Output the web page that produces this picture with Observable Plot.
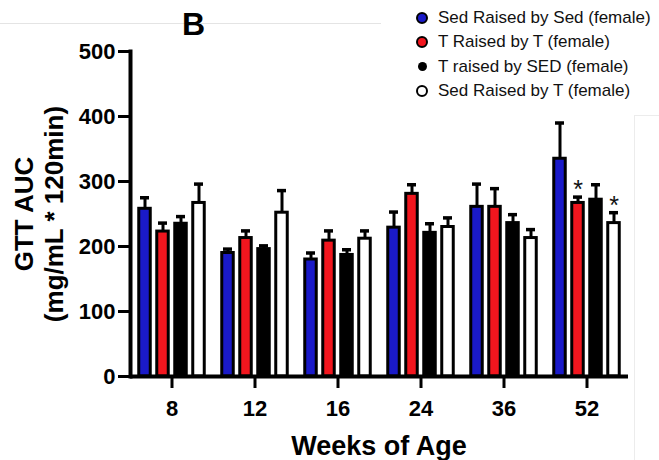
<!DOCTYPE html>
<html>
<head>
<meta charset="utf-8">
<script src="https://cdn.jsdelivr.net/npm/d3@7"></script>
<script src="https://cdn.jsdelivr.net/npm/@observablehq/plot@0.6"></script>
<style>
  html, body { margin: 0; padding: 0; background: #fff; }
  #wrap { position: relative; width: 659px; height: 460px; overflow: hidden; font-family: "Liberation Sans", Arial, sans-serif; color: #000; }
  #chart { position: absolute; left: 0; top: 0; }
  #chart g[aria-label$="tick label"], #chart g[aria-label$="tick label"] text { font-size: 22px; font-weight: bold; }
  .abs { position: absolute; white-space: nowrap; }
  #gline { position: absolute; left: 0; top: 23px; width: 381px; height: 0; border-top: 1px solid #e4e4e4; }
  #rbox { position: absolute; left: 634px; top: 115px; width: 40px; height: 400px; border-left: 1px solid #ececec; border-top: 1px solid #ececec; }
  #title { left: 182px; top: 8px; font-size: 32px; line-height: 32px; font-weight: bold; }
  #xlab { left: 179px; width: 400px; text-align: center; top: 433px; font-size: 27px; line-height: 27px; font-weight: bold; }
  #ylab { left: -111px; top: 184px; width: 300px; height: 60px; transform: rotate(-90deg); text-align: center; font-size: 26px; line-height: 30px; font-weight: bold; }
  #legend { left: 406px; top: 6px; }
  .lrow { display: flex; align-items: center; height: 24.3px; font-size: 17px; color: #111; }
  .lmark { width: 32px; display: flex; justify-content: center; margin-right: 0px; }
  .dot { border-radius: 50%; box-sizing: border-box; }
</style>
</head>
<body>
<div id="wrap">
  <div id="gline"></div>
  <div id="rbox"></div>
  <div id="chart"></div>
  <div id="title" class="abs">B</div>
  <div id="legend" class="abs"></div>
  <div id="ylab" class="abs">GTT AUC<br>(mg/mL * 120min)</div>
  <div id="xlab" class="abs">Weeks of Age</div>
</div>
<script>
const weeks = ["8", "12", "16", "24", "36", "52"];
const seriesNames = ["Sed Raised by Sed (female)", "T Raised by T (female)", "T raised by SED (female)", "Sed Raised by T (female)"];
const seriesColors = ["#1a1ac8", "#f2161e", "#000000", "#ffffff"];
const yTicks = [0, 100, 200, 300, 400, 500];

// GTT AUC means and SEM per week
const sedBySedMean = [258, 190, 180, 229, 261, 335];
const sedBySedSem  = [17, 6, 10, 24, 35, 55];
const tByTMean     = [223, 213, 209, 281, 261, 267];
const tByTSem      = [13, 11, 15, 14, 28, 9];
const tBySedMean   = [235, 196, 187, 221, 236, 272];
const tBySedSem    = [11, 5, 8, 14, 13, 23];
const sedByTMean   = [267, 252, 212, 230, 213, 236];
const sedByTSem    = [29, 34, 12, 14, 13, 16];

// significance markers (series index, week)
const stars = [{s: 1, week: "52"}, {s: 3, week: "52"}];

const means = [sedBySedMean, tByTMean, tBySedMean, sedByTMean];
const sems = [sedBySedSem, tByTSem, tBySedSem, sedByTSem];
const offsets = [-27, -9, 9, 27];

const rows = means.map((m, i) => weeks.map((w, j) => ({week: w, mean: m[j], top: m[j] + sems[i][j]})));
const starRows = stars.map(d => ({week: d.week, s: d.s, top: rows[d.s][weeks.indexOf(d.week)].top}));

const marks = [];
rows.forEach((r, i) => {
  marks.push(Plot.ruleX(r, {x: "week", y1: "mean", y2: "top", dx: offsets[i], stroke: "black", strokeWidth: 3}));
  marks.push(Plot.tickY(r, {x: "week", y: "top", dx: offsets[i], insetLeft: 37, insetRight: 37, stroke: "black", strokeWidth: 3.5}));
  marks.push(Plot.barY(r, {x: "week", y: "mean", dx: offsets[i], insetLeft: 35.75, insetRight: 35.75, fill: seriesColors[i], stroke: "black", strokeWidth: 3}));
});
[1, 3].forEach(si => {
  marks.push(Plot.text(starRows.filter(d => d.s === si), {x: "week", y: "top", dx: offsets[si], dy: -7, text: () => "*", fontSize: 25, fontWeight: "normal", fill: "#111"}));
});
marks.push(Plot.ruleY([0], {stroke: "black", strokeWidth: 4}));
marks.push(Plot.frame({anchor: "left", stroke: "black", strokeWidth: 4}));
marks.push(Plot.axisY({ticks: yTicks, tickSize: 12, strokeWidth: 3, tickPadding: 3, label: null, fontSize: 22, fontWeight: "bold"}));
marks.push(Plot.axisX({tickSize: 12, strokeWidth: 3, tickPadding: 12, label: null, fontSize: 22, fontWeight: "bold"}));

const chart = Plot.plot({
  width: 659,
  height: 460,
  marginLeft: 130,
  marginRight: 31,
  marginTop: 51,
  marginBottom: 84,
  x: {domain: weeks, padding: 0, label: null},
  y: {domain: [0, 500], label: null},
  style: {fontFamily: "'Liberation Sans', Arial, sans-serif", fontWeight: "bold", fontSize: "22px", color: "black", background: "transparent", overflow: "visible"},
  marks
});
document.getElementById("chart").appendChild(chart);

// legend
const legend = document.getElementById("legend");
seriesNames.forEach((name, i) => {
  const row = document.createElement("div");
  row.className = "lrow";
  const mk = document.createElement("div");
  mk.className = "lmark";
  const dot = document.createElement("div");
  dot.className = "dot";
  const size = i === 2 ? 9 : 12;
  dot.style.width = size + "px";
  dot.style.height = size + "px";
  dot.style.background = seriesColors[i];
  dot.style.border = i === 2 ? "none" : "2.5px solid #000";
  mk.appendChild(dot);
  const t = document.createElement("span");
  t.textContent = name;
  row.appendChild(mk);
  row.appendChild(t);
  legend.appendChild(row);
});
</script>
</body>
</html>
